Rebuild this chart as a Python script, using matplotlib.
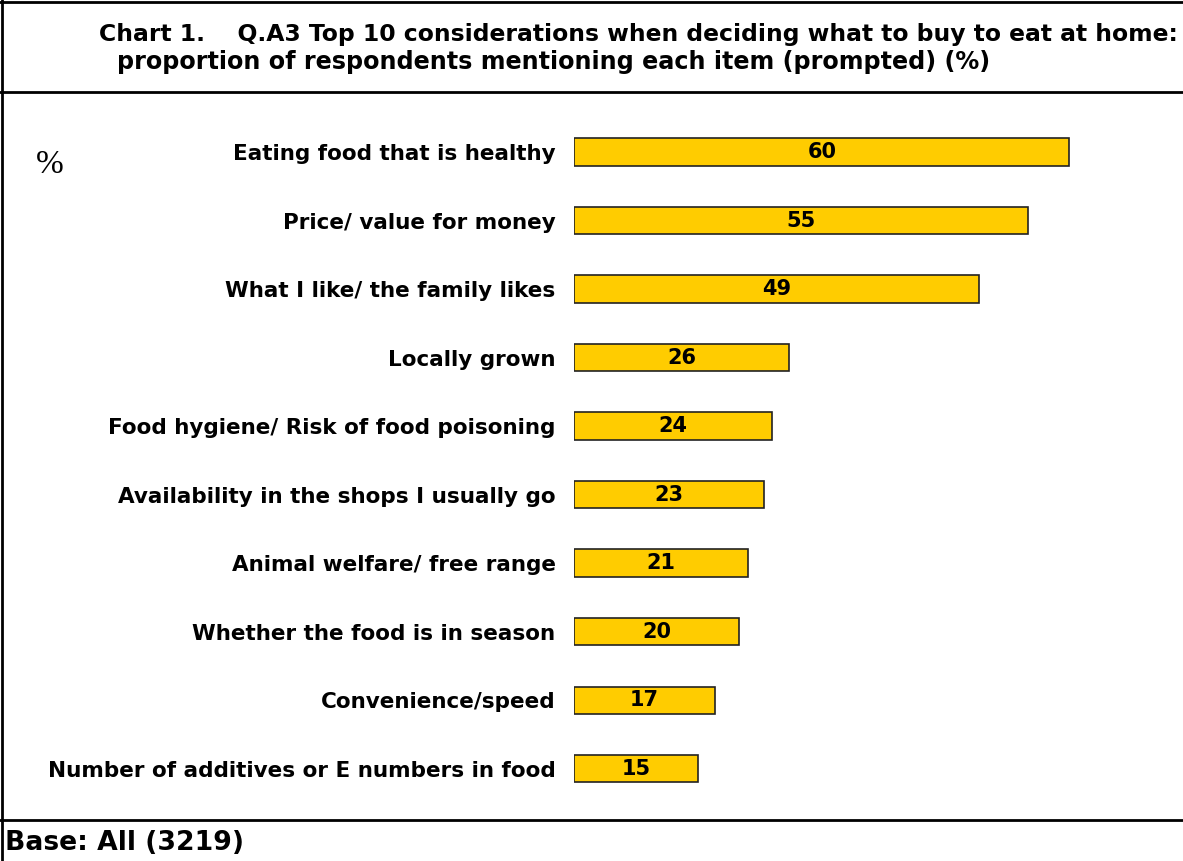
import matplotlib
matplotlib.use("Agg")
import matplotlib.pyplot as plt
from matplotlib.lines import Line2D

# ── data ────────────────────────────────────────────────────
considerations = [
    "Eating food that is healthy",
    "Price/ value for money",
    "What I like/ the family likes",
    "Locally grown",
    "Food hygiene/ Risk of food poisoning",
    "Availability in the shops I usually go",
    "Animal welfare/ free range",
    "Whether the food is in season",
    "Convenience/speed",
    "Number of additives or E numbers in food",
]
percent = [60, 55, 49, 26, 24, 23, 21, 20, 17, 15]

title_lines = [
    "Chart 1.    Q.A3 Top 10 considerations when deciding what to buy to eat at home:",
    "proportion of respondents mentioning each item (prompted) (%)",
]
base_note = "Base: All (3219)"

BAR_COLOR = "#FFCC00"
W, H = 1183, 861

plt.rcParams["font.family"] = ["DejaVu Sans"]

fig = plt.figure(figsize=(W / 100, H / 100), dpi=100)
fig.patch.set_facecolor("white")


def fx(px):
    return px / W


def fy(py):
    return 1 - py / H


# plot area in pixel terms
ax = fig.add_axes([fx(574.3), fy(815), fx(W - 574.3), (815 - 100) / H])
rows = list(range(len(considerations)))
ax.barh(rows, percent, height=0.4, color=BAR_COLOR,
        edgecolor="#222222", linewidth=1.2)
for r, v in zip(rows, percent):
    ax.text(v / 2, r, f"{v}", ha="center", va="center",
            fontsize=15, fontweight="bold", color="black")

ax.set_xlim(0, (W - 574.3) / 8.25)
ax.set_ylim(9.675, -0.759)
ax.set_yticks(rows)
ax.set_yticklabels(considerations, fontsize=15.5, fontweight="bold")
ax.tick_params(axis="y", length=0, pad=13.5)
ax.set_xticks([])
for s in ax.spines.values():
    s.set_visible(False)

# percent sign on the left
fig.text(fx(36), fy(165), "%", fontsize=24, family="Liberation Serif",
         ha="left", va="center")

# title block
fig.text(fx(99), fy(35), title_lines[0], fontsize=16.9, fontweight="bold",
         ha="left", va="center")
fig.text(fx(117), fy(62), title_lines[1], fontsize=17.2, fontweight="bold",
         ha="left", va="center")

# footer
fig.text(fx(5), fy(843), base_note, fontsize=19.2, fontweight="bold",
         ha="left", va="center")

# frame lines
lw = 2.0
for y in (1.5, 92, 820):
    fig.add_artist(Line2D([0, 1], [fy(y), fy(y)], color="black",
                          linewidth=lw, transform=fig.transFigure))
fig.add_artist(Line2D([fx(1.5), fx(1.5)], [0, 1], color="black",
                      linewidth=lw, transform=fig.transFigure))

fig.savefig("out.png", dpi=100)
